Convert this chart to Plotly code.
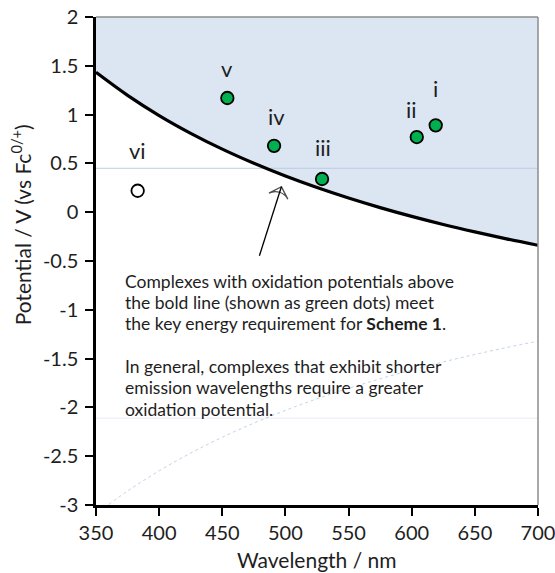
import plotly.graph_objects as go

# ---------------- data ----------------
curve_wavelength = [350, 375, 400, 425, 450, 475, 500, 525, 550, 575, 600, 625, 650, 675, 700]
threshold_potential = [1.433, 1.197, 0.990, 0.808, 0.646, 0.501, 0.370, 0.252, 0.145, 0.047,
                       -0.043, -0.126, -0.202, -0.273, -0.339]

lower_wavelength = [360, 375, 400, 425, 450, 475, 500, 525, 550, 575, 600, 625, 650, 675, 700]
lower_potential = [-2.994, -2.857, -2.650, -2.468, -2.306, -2.161, -2.030, -1.912, -1.805,
                   -1.707, -1.617, -1.534, -1.458, -1.387, -1.321]

ref_upper_level = 0.45
ref_lower_level = -2.11

complex_names = ["i", "ii", "iii", "iv", "v", "vi"]
complex_wavelength = [619, 604, 529, 491, 454, 383]
complex_potential = [0.89, 0.77, 0.34, 0.68, 1.17, 0.22]
meets_requirement = [True, True, True, True, True, False]

x_ticks = [350, 400, 450, 500, 550, 600, 650, 700]
y_ticks = [2, 1.5, 1, 0.5, 0, -0.5, -1, -1.5, -2, -2.5, -3]

arrow_wavelength = [479.4, 496.8]
arrow_potential = [-0.446, 0.261]

note_lines = ["Complexes with oxidation potentials above",
              "the bold line (shown as green dots) meet",
              "the key energy requirement for <b>Scheme 1</b>.",
              "",
              "In general, complexes that exhibit shorter",
              "emission wavelengths require a greater",
              "oxidation potential."]

x_title = "Wavelength / nm"
y_title = "Potential / V (vs Fc<sup>0/+</sup>)"

# ---------------- figure ----------------
FONT = "Lato"
TXT = "#1e1e1e"
W, H = 555, 573
ML, MR, MT, MB = 95.5, 17, 17, 67.5
PW, PH = W - ML - MR, H - MT - MB

fig = go.Figure()

# top boundary for fill
fig.add_trace(go.Scatter(x=[x_ticks[0], x_ticks[-1]], y=[y_ticks[0], y_ticks[0]],
                         mode="lines", line=dict(width=0, color="rgba(0,0,0,0)"),
                         hoverinfo="skip", showlegend=False))
# shaded region above threshold curve
fig.add_trace(go.Scatter(x=curve_wavelength, y=threshold_potential, mode="lines",
                         line=dict(width=0, color="rgba(0,0,0,0)", shape="spline"),
                         fill="tonexty", fillcolor="#DCE6F2",
                         hoverinfo="skip", showlegend=False))

# thin reference lines
fig.add_trace(go.Scatter(x=[x_ticks[0], x_ticks[-1]], y=[ref_upper_level] * 2, mode="lines",
                         line=dict(width=1, color="#B9CDE5"), showlegend=False))
fig.add_trace(go.Scatter(x=[x_ticks[0], x_ticks[-1]], y=[ref_lower_level] * 2, mode="lines",
                         line=dict(width=1, color="#E6ECF5"), showlegend=False))
fig.add_trace(go.Scatter(x=lower_wavelength, y=lower_potential, mode="lines",
                         line=dict(width=0.8, color="#B4C6DE", dash="dot", shape="spline"),
                         showlegend=False))

# bold threshold curve
fig.add_trace(go.Scatter(x=curve_wavelength, y=threshold_potential, mode="lines",
                         line=dict(width=3.2, color="black", shape="spline"),
                         showlegend=False))

# arrow
fig.add_trace(go.Scatter(x=arrow_wavelength, y=arrow_potential, mode="lines+markers",
                         line=dict(width=1.3, color="black"),
                         marker=dict(symbol="arrow-wide-open", size=[0, 14], angleref="previous",
                                     color="black", line=dict(width=1.3, color="black")),
                         showlegend=False))

# complexes
fills = ["#00B050" if m else "white" for m in meets_requirement]
fig.add_trace(go.Scatter(x=complex_wavelength, y=complex_potential, mode="markers",
                         marker=dict(size=12.5, color=fills, line=dict(width=1.8, color="black")),
                         showlegend=False))

label_shift = {"i": (0, 37), "ii": (-5, 28), "iii": (1, 32), "iv": (2, 29), "v": (0, 30), "vi": (0, 40)}
for n, xw, yp in zip(complex_names, complex_wavelength, complex_potential):
    dx, dy = label_shift[n]
    fig.add_annotation(x=xw, y=yp, text=n, showarrow=False, xshift=dx, yshift=dy,
                       font=dict(family=FONT, size=22, color=TXT))

# explanatory note, one line at a time (pixel layout)
note_left_px, note_top_px, note_step = 122.5, 281.7, 21.3
for i, line in enumerate(note_lines):
    if not line:
        continue
    ypx = note_top_px + i * note_step
    fig.add_annotation(xref="paper", yref="paper",
                       x=(note_left_px - ML) / PW, y=(H - MB - ypx) / PH,
                       xanchor="left", yanchor="middle", text=line, showarrow=False,
                       font=dict(family=FONT, size=17.5, color=TXT))

# axis titles
fig.add_annotation(xref="paper", yref="paper", x=(316.7 - ML) / PW, y=(H - MB - 560) / PH,
                   text=x_title, showarrow=False, xanchor="center", yanchor="middle",
                   font=dict(family=FONT, size=21, color=TXT))
fig.add_annotation(xref="paper", yref="paper", x=(20 - ML) / PW, y=(H - MB - 225) / PH,
                   text=y_title, showarrow=False, xanchor="center", yanchor="middle",
                   textangle=-90, font=dict(family=FONT, size=21, color=TXT))

# plot frame (top / right in grey)
fig.add_shape(type="line", xref="paper", yref="paper", x0=0, x1=1, y0=1, y1=1,
              line=dict(color="#8C8C8C", width=1.5), layer="above")
fig.add_shape(type="line", xref="paper", yref="paper", x0=1, x1=1, y0=0, y1=1,
              line=dict(color="#8C8C8C", width=1.5), layer="above")

fig.update_layout(
    width=W, height=H,
    margin=dict(l=ML, r=MR, t=MT, b=MB, autoexpand=False),
    plot_bgcolor="white", paper_bgcolor="white",
    font=dict(family=FONT, size=20, color=TXT),
    xaxis=dict(range=[350, 700], tickvals=x_ticks, ticktext=[str(v) for v in x_ticks],
               automargin=False, ticklabeloverflow="allow",
               showgrid=False, zeroline=False, showline=True, linecolor="black", linewidth=2.5,
               ticks="outside", ticklen=8, tickwidth=2, tickcolor="black",
               tickfont=dict(family=FONT, size=20, color=TXT)),
    yaxis=dict(range=[-3, 2], tickvals=y_ticks, ticktext=[str(v) for v in y_ticks],
               automargin=False, ticklabelstandoff=3, ticklabeloverflow="allow",
               showgrid=False, zeroline=False, showline=True, linecolor="black", linewidth=2.5,
               ticks="outside", ticklen=8, tickwidth=2, tickcolor="black",
               tickfont=dict(family=FONT, size=20, color=TXT)),
)

fig.write_html("out.html")
